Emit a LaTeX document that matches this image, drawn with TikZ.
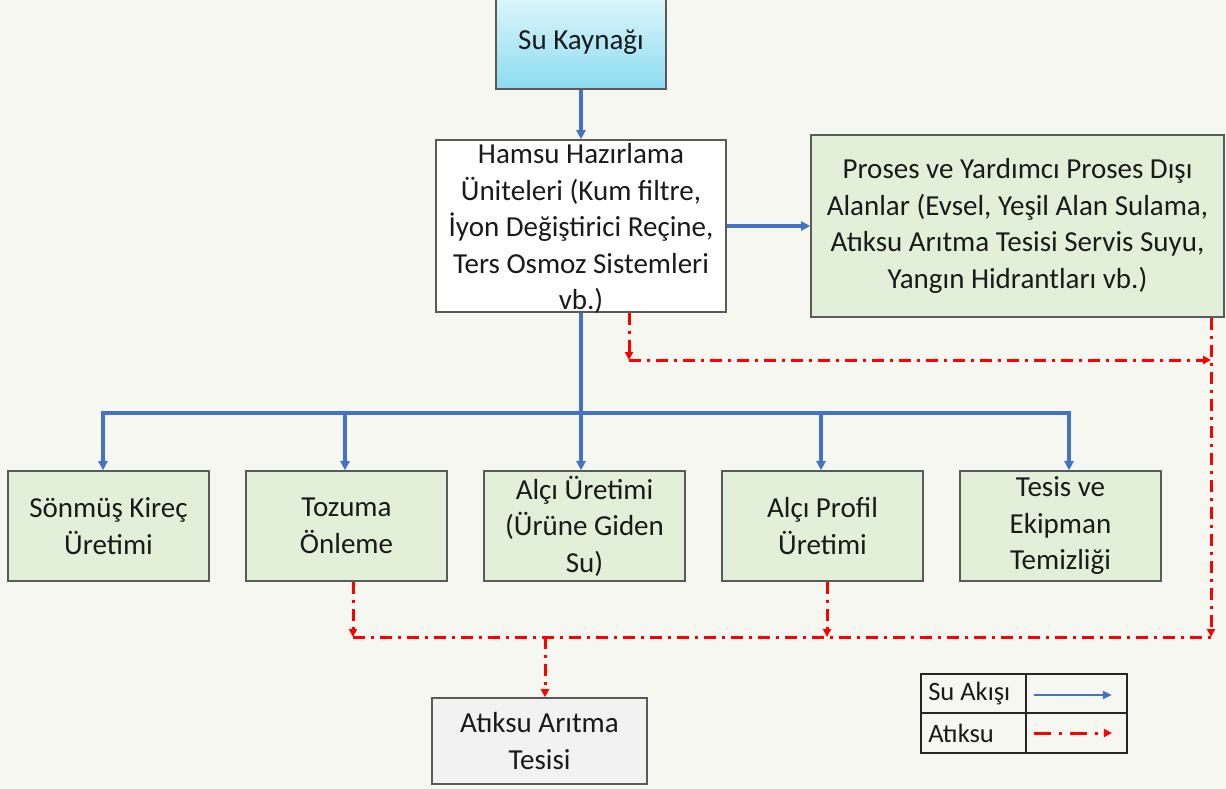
\documentclass[tikz,border=0pt]{standalone}
\usepackage{fontspec}
\setmainfont{Carlito}
\usetikzlibrary{arrows.meta}
\definecolor{bg}{HTML}{F7F7F2}
\definecolor{flowblue}{HTML}{4472C4}
\definecolor{wastered}{HTML}{FF0000}
\definecolor{boxgreen}{HTML}{E2EFD9}
\definecolor{boxgray}{HTML}{F2F2F2}
\definecolor{edge}{HTML}{5A5A5A}
\definecolor{txt}{HTML}{1A1A1A}
\tikzset{
  box/.style={draw=edge, line width=1.6pt, inner sep=0pt, align=center, text=txt,
    font=\fontsize{29}{36.5}\selectfont},
  boxtext/.style={inner sep=0pt, align=center, text=txt, font=\fontsize{29}{36.5}\selectfont},
  greenbox/.style={box, fill=boxgreen, minimum width=201pt, minimum height=110pt},
  flow/.style={draw=flowblue, line width=3.2pt, -{Triangle[length=9pt,width=9pt]}},
  flowline/.style={draw=flowblue, line width=3.2pt},
  wastepat/.style={draw=wastered, line width=3pt, dash pattern=on 12pt off 6pt on 3pt off 6pt},
  waste/.style={wastepat, -{Triangle[length=8pt,width=8pt]}},
  legcell/.style={draw=black!85, line width=1.8pt, inner sep=0pt, minimum height=39.5pt},
  legtext/.style={text=txt, font=\fontsize{26.5}{30}\selectfont, anchor=west, inner sep=0pt}
}
\begin{document}
\begin{tikzpicture}[x=1pt, y=-1pt]
\useasboundingbox (0,0) rectangle (1226,789);
\fill[bg] (0,0) rectangle (1226,789);

% top nodes
\node[box, top color={rgb,255:red,222;green,246;blue,252}, bottom color={rgb,255:red,140;green,220;blue,240},
  minimum width=170pt, minimum height=93pt] (src) at (581,42.5) {Su Kaynağı};
\node[box, fill=white, minimum width=290pt, minimum height=172pt] (hamsu) at (581,226) {};
\node[box, fill=boxgreen, minimum width=413pt, minimum height=182pt] (proses) at (1017.5,226)
  {Proses ve Yardımcı Proses Dışı\\Alanlar (Evsel, Yeşil Alan Sulama,\\Atıksu Arıtma Tesisi Servis Suyu,\\Yangın Hidrantları vb.)};

% process nodes
\node[greenbox] (b1) at (108.5,526) {Sönmüş Kireç\\Üretimi};
\node[greenbox] (b2) at (346.5,526) {Tozuma\\Önleme};
\node[greenbox] (b3) at (584.5,526) {Alçı Üretimi\\(Ürüne Giden\\Su)};
\node[greenbox] (b4) at (822.5,526) {Alçı Profil\\Üretimi};
\node[greenbox] (b5) at (1060.5,526) {Tesis ve\\Ekipman\\Temizliği};

\node[box, fill=boxgray, minimum width=215pt, minimum height=86pt] (aat) at (539.5,741) {Atıksu Arıtma\\Tesisi};

% blue flow
\draw[flow] (src) -- (hamsu);
\draw[flow] (hamsu) -- (proses);
\coordinate (bus) at (581,413);
\draw[flowline] (hamsu.south) -- (bus);
\draw[flow] (bus) -| ([xshift=-5.5pt]b1.north);
\draw[flow] (bus) -| ([xshift=-1.5pt]b2.north);
\draw[flow] (bus) -| ([xshift=-3.5pt]b3.north);
\draw[flow] (bus) -| ([xshift=-1.5pt]b4.north);
\draw[flow] (bus) -| ([xshift=8.5pt]b5.north);

% red waste
\coordinate (r1) at (629,360);
\coordinate (r2) at (1211,360);
\coordinate (r3) at (1211,637);
\coordinate (t1) at (353,637);
\coordinate (t2) at (827,637);
\coordinate (t3) at (545,637);
\draw[waste] (hamsu.south -| r1) -- (r1);
\draw[waste] (r1) -- (r2);
\draw[waste] (proses.south -| r3) -- (r3);
\draw[waste] (b2.south -| t1) -- (t1);
\draw[waste] (b4.south -| t2) -- (t2);
\draw[wastepat] (t1) -- (r3);
\draw[waste] (t3) -- (aat.north -| t3);

% hamsu text on top
\node[boxtext] (hamsut) at (581,228.5)
  {Hamsu Hazırlama\\Üniteleri (Kum filtre,\\İyon Değiştirici Reçine,\\Ters Osmoz Sistemleri\\vb.)};

% legend
\node[legcell, minimum width=105pt] (l11) at (973.5,693.5) {};
\node[legcell, minimum width=101pt] (l12) at (1076.5,693.5) {};
\node[legcell, minimum width=105pt] (l21) at (973.5,733) {};
\node[legcell, minimum width=101pt] (l22) at (1076.5,733) {};
\node[legtext] (lt1) at ([xshift=8pt]l11.west) {Su Akışı};
\node[legtext] (lt2) at ([xshift=8pt]l21.west) {Atıksu};
\draw[flow, -{Triangle[length=9pt,width=8pt]}, line width=2.6pt] ([xshift=9pt,yshift=-1.5pt]l12.west) -- ([xshift=-16pt,yshift=-1.5pt]l12.east);
\draw[waste, dash pattern=on 17pt off 8pt on 3pt off 8pt] ([xshift=9pt]l22.west) -- ([xshift=-16pt]l22.east);
\end{tikzpicture}
\end{document}
